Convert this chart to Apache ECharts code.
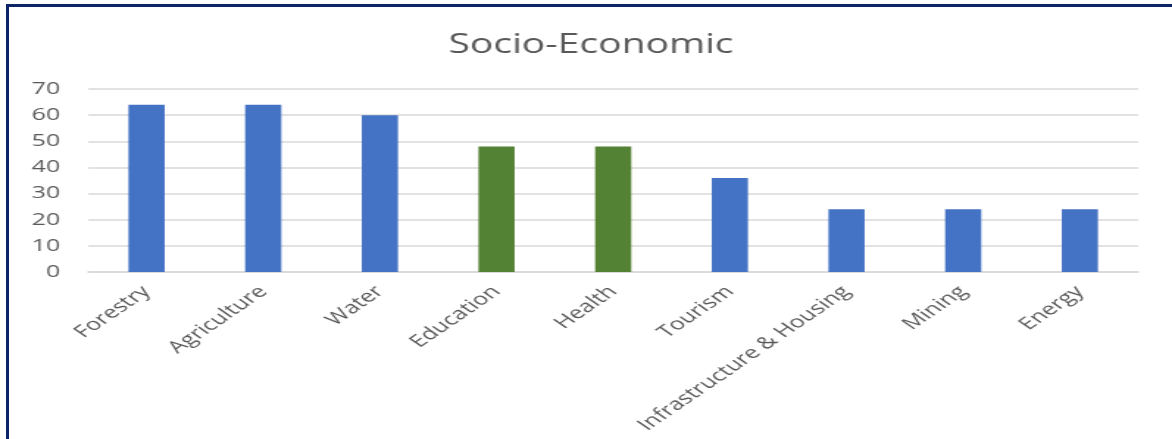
<!DOCTYPE html>
<html>
<head>
<meta charset="utf-8">
<script src="https://cdn.jsdelivr.net/npm/echarts@6/dist/echarts.min.js"></script>
<style>
  html, body { margin: 0; padding: 0; background: #ffffff; overflow: hidden; }
  #frame {
    position: absolute; left: 6px; top: 4px; right: 0; bottom: -10px;
    border-top: 3px solid #0b2566; border-left: 3px solid #0b2566;
  }
  #chart {
    position: absolute; left: 0; top: 0; width: 797px; height: 439px;
    transform: scaleX(1.4705); transform-origin: 0 0;
  }
</style>
</head>
<body>
<div id="chart"></div>
<div id="frame"></div>
<script>
// Sectors and their scores
const categories = ['Forestry', 'Agriculture', 'Water', 'Education', 'Health',
  'Tourism', 'Infrastructure & Housing', 'Mining', 'Energy'];
const values = [64, 64, 60, 48, 48, 36, 24, 24, 24];
// Social-service sectors drawn in the accent colour
const socialSectors = ['Education', 'Health'];
const yTicks = [0, 10, 20, 30, 40, 50, 60, 70];

const BLUE = '#4472c4';
const GREEN = '#548235';
const TEXT = '#595959';
const FONT = '"Open Sans", "Noto Sans", sans-serif';

const chart = echarts.init(document.getElementById('chart'), null, { renderer: 'canvas' });
chart.setOption({
  animation: false,
  backgroundColor: 'transparent',
  title: {
    text: 'Socio-Economic',
    left: 300,
    top: 27,
    textStyle: { color: TEXT, fontSize: 26.5, fontWeight: 'normal', fontFamily: FONT }
  },
  grid: { left: 60, right: 23, top: 89, bottom: 167, containLabel: false },
  xAxis: {
    type: 'category',
    data: categories,
    axisTick: { show: false },
    axisLine: { lineStyle: { color: '#d9d9d9', width: 1.5 } },
    axisLabel: {
      rotate: 45, interval: 0, margin: 17,
      color: TEXT, fontSize: 17, fontFamily: FONT
    }
  },
  yAxis: {
    type: 'value',
    min: yTicks[0],
    max: yTicks[yTicks.length - 1],
    interval: yTicks[1] - yTicks[0],
    axisLine: { show: false },
    axisTick: { show: false },
    splitLine: { lineStyle: { color: '#d9d9d9', width: 1.5 } },
    axisLabel: { margin: 19, color: TEXT, fontSize: 17, fontFamily: FONT }
  },
  series: [{
    type: 'bar',
    data: values,
    barWidth: '31%',
    itemStyle: {
      color: p => socialSectors.includes(categories[p.dataIndex]) ? GREEN : BLUE
    }
  }]
});
</script>
</body>
</html>
